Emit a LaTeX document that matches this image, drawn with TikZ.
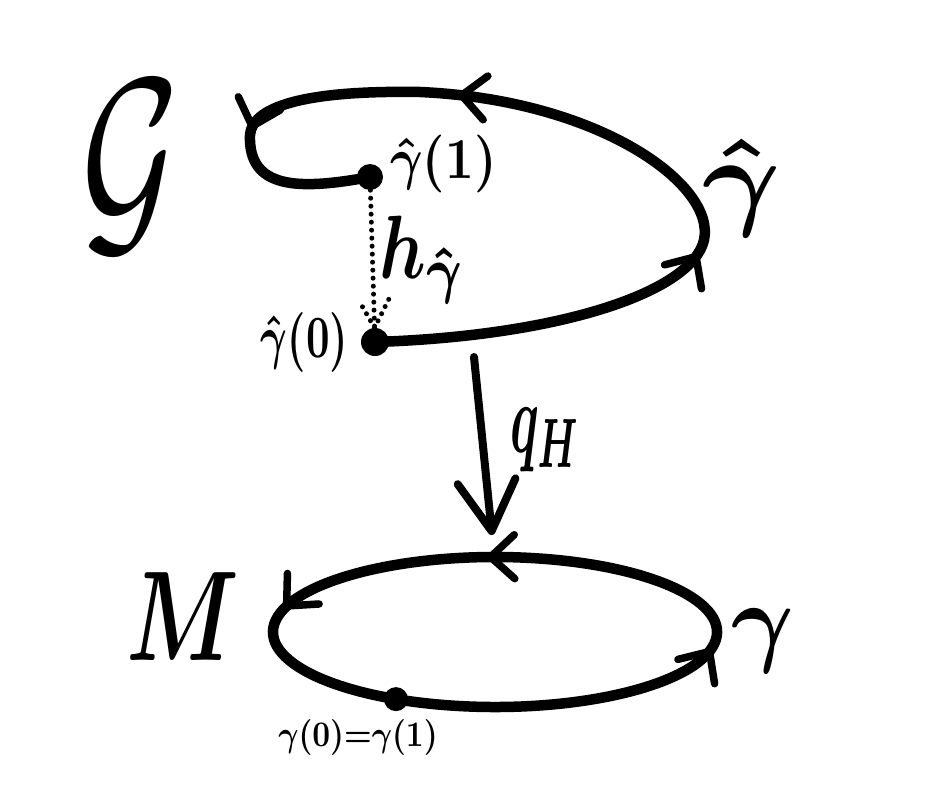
\documentclass[tikz,border=0pt]{standalone}
\usetikzlibrary{arrows.meta,positioning,calc,decorations.markings}

\begin{document}
\begin{tikzpicture}[
    x=1pt, y=-1pt,
    curve/.style={line width=10.5pt, line cap=round, line join=round},
    dot/.style={circle, fill, inner sep=0pt, minimum size=26pt},
    lbl/.style={inner sep=0pt, font=\boldmath},
    dotline/.style={line width=5pt, line cap=round, dash pattern=on 0pt off 8pt},
    chev/.tip={Straight Barb[length=24pt, width=44pt, line width=7.5pt, round]},
    midarrow/.style={postaction={decorate, decoration={markings, mark=at position #1 with {\arrow{chev}}}}},
    dotarrow/.style={postaction={decorate, decoration={markings, mark=at position 1 with {\draw [dotline] (-28pt,15pt) -- (0,0) -- (-28pt,-15pt);}}}}
]
    \useasboundingbox (0,0) rectangle (945,792);

    % the lifted path upstairs
    \node [dot, minimum size=28pt] (g0) at (375,342) {};
    \node [dot] (g1) at (370,177) {};
    \draw [curve, midarrow=0.33, midarrow=0.64, midarrow=0.85]
        (g0.center) .. controls (560,336) and (692,292) .. (704,240)
        .. controls (716,185) and (600,100) .. (420,92)
        .. controls (300,90) and (252,108) .. (250,135)
        .. controls (248,190) and (300,190) .. (g1.center);
    \draw [dotline, dotarrow] (g1) -- (g0);

    \node [lbl, font={}, xscale=15, yscale=22] (cover) at (131,167) {$\mathcal{G}$};
    \node [lbl, xscale=12, yscale=11] (gh) at (742,188) {$\hat{\gamma}$};
    \node [lbl, right=6pt of g1, yshift=13pt, xscale=5, yscale=5.8] (g1lbl) {$\hat{\gamma}(1)$};
    \node [lbl, left=12pt of g0, xscale=4.1, yscale=6] (g0lbl) {$\hat{\gamma}(0)$};
    \node [lbl, xscale=7, yscale=9] (hlbl) at (423,260) {$h_{\hat{\gamma}}$};

    % the projection
    \coordinate (qtop) at (474,357);
    \coordinate (qbot) at (492,535);
    \draw [line width=8pt, line cap=round,
           -{Straight Barb[length=50pt, width=58pt, round]}] (qtop) -- (qbot);
    \node [lbl, xscale=5, yscale=10] (qlbl) at (546,440) {$q_{H}$};

    % the loop downstairs
    \coordinate (m) at (495,632);
    \draw [curve, midarrow=0.275, midarrow=0.49, midarrow=0.999]
        (m) ++(12:222 and 75) arc [start angle=12, end angle=-348, x radius=222, y radius=75];
    \node [dot, minimum size=24pt] (base) at ($(m)+(116.5:222 and 75)$) {};
    \node [lbl, below=7pt of base, xshift=-38pt, xscale=3.1, yscale=3.6] (baselbl) {$\gamma(0){=}\gamma(1)$};
    \node [lbl, xscale=9, yscale=12.8] (mlbl) at (183,617) {$M$};
    \node [lbl, xscale=9.6, yscale=10] (glbl) at (763,641) {$\gamma$};
\end{tikzpicture}
\end{document}
